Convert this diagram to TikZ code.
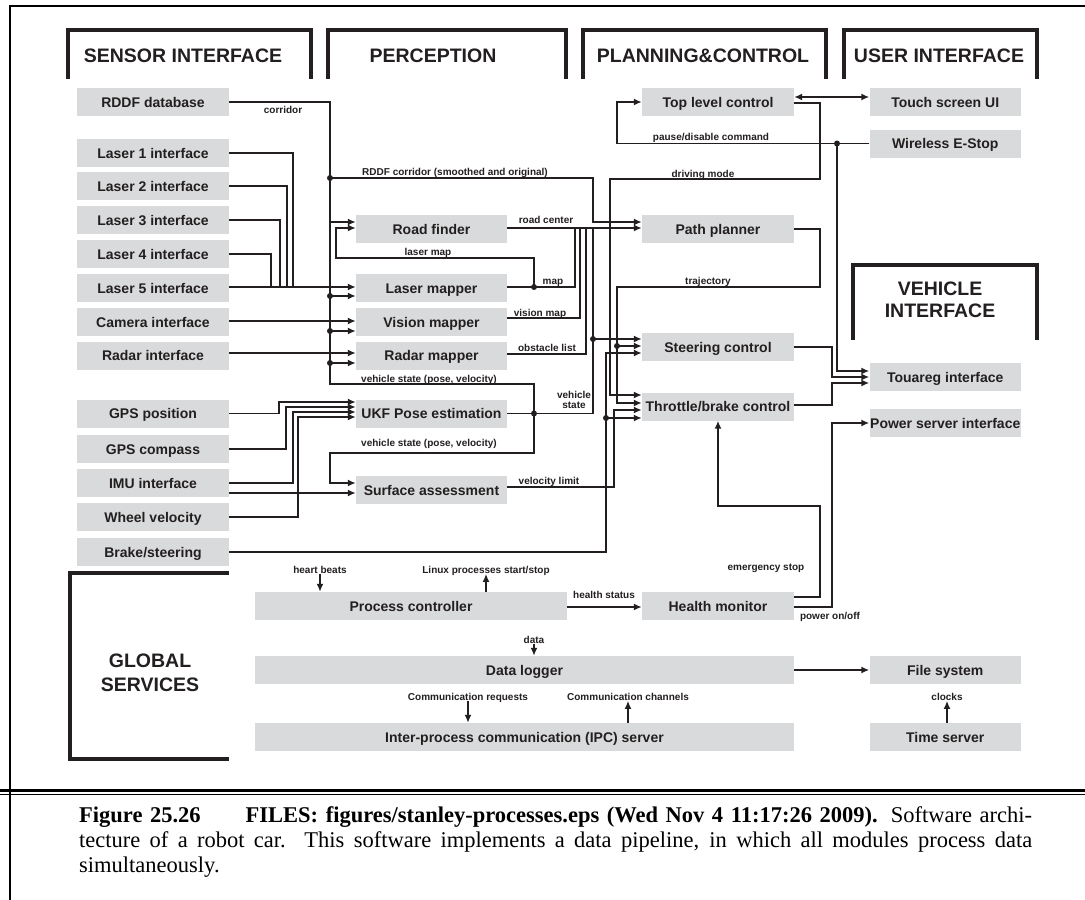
\documentclass[tikz,border=0pt]{standalone}
\usepackage{fontspec}
\setmainfont{Liberation Serif}
\setsansfont{Liberation Sans}
\usetikzlibrary{arrows.meta}
\definecolor{ink}{HTML}{231F20}
\definecolor{boxgray}{HTML}{D9DADB}
\tikzset{
  box/.style={fill=boxgray, text=ink, inner sep=0pt, minimum height=28pt, text height=10.2pt, text depth=0pt, font=\sffamily\bfseries\fontsize{14}{16}\selectfont},
  wire/.style={draw=ink, line width=1.8pt},
  lbl/.style={text=ink, inner sep=0pt, text height=7.3pt, text depth=0pt, font=\sffamily\bfseries\fontsize{10}{11}\selectfont},
  head/.style={text=ink, inner sep=0pt, anchor=base, font=\sffamily\bfseries\fontsize{19.5}{22}\selectfont},
  bracket/.style={draw=ink, line width=3.5pt},
}
\begin{document}
\begin{tikzpicture}[x=1pt, y=-1pt, >={Latex[length=8pt,width=7pt]}]
  \fill[white] (0,0) rectangle (1085,900);
  \path[use as bounding box] (0,0) rectangle (1085,900);
  \draw[line width=2.5pt] (10,900) -- (10,6) -- (1085,6);
  \draw[line width=3pt] (0,790.5) -- (1085,790.5);
  \draw[line width=1pt] (0,794.5) -- (1085,794.5);

  \draw[bracket] (68,79) |- (311,30) -- (311,79);
  \draw[bracket] (328,79) |- (566,30) -- (566,79);
  \draw[bracket] (583,79) |- (826,30) -- (826,79);
  \draw[bracket] (844,79) |- (1037,30) -- (1037,79);
  \draw[bracket] (853,340) |- (1037,265) -- (1037,340);
  \draw[bracket] (229,573) -| (70,759) -- (229,759);
  \node[head] (hsens) at (183,62) {SENSOR INTERFACE};
  \node[head] (hperc) at (433,62) {PERCEPTION};
  \node[head] (hplan) at (703,62) {PLANNING\&CONTROL};
  \node[head] (huser) at (939,62) {USER INTERFACE};
  \node[head] (hveh1) at (940,295) {VEHICLE};
  \node[head] (hveh2) at (940,317) {INTERFACE};
  \node[head] (hglob1) at (150,667) {GLOBAL};
  \node[head] (hglob2) at (150,691) {SERVICES};

  \foreach \n/\y/\t in {rddf/102/RDDF database, las1/153/Laser 1 interface, las2/186/Laser 2 interface,
      las3/220/Laser 3 interface, las4/254/Laser 4 interface, las5/288/Laser 5 interface,
      cam/322/Camera interface, radar/355.5/Radar interface, gpspos/413.5/GPS position,
      gpscomp/449/GPS compass, imu/483/IMU interface, wheel/517/Wheel velocity}
    \node[box, minimum width=152pt] (\n) at (153,\y) {\t};
  \node[box, minimum width=152pt] (brake) at (153,552) {Brake/steering};
  \foreach \n/\y/\t in {road/229/Road finder, lmap/288/Laser mapper, vmap/322/Vision mapper,
      rmap/355.5/Radar mapper, ukf/413.5/UKF Pose estimation, surf/490/Surface assessment}
    \node[box, minimum width=151pt] (\n) at (431.5,\y) {\t};
  \foreach \n/\y/\t in {top/102/Top level control, path/229/Path planner, steer/347/Steering control, health/606/Health monitor}
    \node[box, minimum width=152pt] (\n) at (718,\y) {\t};
  \node[box, minimum width=152pt] (throttle) at (718,406.5) {Throttle/brake control};
  \foreach \n/\y/\t in {touch/102/Touch screen UI, estop/143.5/Wireless E-Stop, touareg/377/Touareg interface,
      power/423/Power server interface, files/670/File system, time/737/Time server}
    \node[box, minimum width=151.5pt] (\n) at (945.25,\y) {\t};
  \node[box, minimum width=312pt] (process) at (411,606) {Process controller};
  \node[box, minimum width=539pt] (datalog) at (524.5,670) {Data logger};
  \node[box, minimum width=539pt] (ipc) at (524.5,737) {Inter-process communication (IPC) server};

  \draw[wire,->] (rddf.east) -- (330,102) -- (330,222) -- (road.west |- 0,222);
  \foreach \s/\x in {las1/293,las2/287,las3/280,las4/271} \draw[wire] (\s.east) -| (\x,287);
  \draw[wire,->] (las5.east |- 0,287) -- (lmap.west |- 0,287);
  \draw[wire,->] (cam.east |- 0,321) -- (vmap.west |- 0,321);
  \draw[wire,->] (radar.east |- 0,353) -- (rmap.west |- 0,353);
  \foreach \t/\y in {lmap/296,vmap/331,rmap/363} {
    \fill[ink] (330,\y) circle (3pt);
    \draw[wire,->] (330,\y) -- (\t.west |- 0,\y);
  }
  \draw[wire,->] (gpspos.east) -- (279,413.5) -- (279,402) -- (ukf.west |- 0,402);
  \draw[wire,->] (gpscomp.east) -- (286,449) -- (286,407) -- (ukf.west |- 0,407);
  \draw[wire,->] (imu.east |- 0,483) -- (293,483) -- (293,412) -- (ukf.west |- 0,412);
  \draw[wire,->] (wheel.east) -- (298,517) -- (298,417) -- (ukf.west |- 0,417);
  \draw[wire,->] (imu.east |- 0,493) -- (surf.west |- 0,493);

  \draw[wire] (ukf.east) -- (593,413.5) -- (593,228);
  \fill[ink] (534,413.5) circle (3pt);
  \draw[wire] (534,413.5) -- (534,384) -- (330,384) -- (330,222);
  \draw[wire,->] (534,413.5) -- (534,453) -- (330,453) -- (330,483) -- (surf.west |- 0,483);
  \fill[ink] (593,339) circle (3pt);
  \draw[wire,->] (593,339) -- (steer.west |- 0,339);

  \fill[ink] (330,178) circle (3pt);
  \draw[wire,->] (330,178) -- (593,178) -- (593,222) -- (path.west |- 0,222);
  \draw[wire,->] (road.east |- 0,228) -- (path.west |- 0,228);
  \draw[wire] (lmap.east |- 0,287) -- (575,287) -- (575,228);
  \fill[ink] (534,287) circle (3pt);
  \draw[wire,->] (534,287) -- (534,258) -- (336,258) -- (336,228) -- (road.west |- 0,228);
  \draw[wire] (vmap.east |- 0,318) -- (580,318) -- (580,228);
  \draw[wire] (rmap.east |- 0,354) -- (586,354) -- (586,228);

  \draw[wire,->] (path.east) -- (820,229) -- (820,287) -- (617,287) -- (617,403) -- (throttle.west |- 0,403);
  \fill[ink] (617,346) circle (3pt);
  \draw[wire,->] (617,346) -- (steer.west |- 0,346);
  \draw[wire,->] (top.east |- 0,103) -- (820,103) -- (820,179) -- (610,179) -- (610,395) -- (throttle.west |- 0,395);
  \draw[wire,<->] (top.east |- 0,97) -- (touch.west |- 0,97);
  \draw[wire,->] (estop.west) -- (617,143.5) -- (617,102) -- (top.west);
  \fill[ink] (837,143.5) circle (3pt);
  \draw[wire,->] (837,143.5) -- (837,371) -- (touareg.west |- 0,371);
  \draw[wire,->] (steer.east) -- (832,347) -- (832,377) -- (touareg.west |- 0,377);
  \draw[wire,->] (throttle.east |- 0,405) -- (832,405) -- (832,383) -- (touareg.west |- 0,383);
  \draw[wire,->] (brake.east) -- (606,552) -- (606,353) -- (steer.west |- 0,353);
  \fill[ink] (606,418) circle (3pt);
  \draw[wire,->] (606,418) -- (throttle.west |- 0,418);
  \draw[wire,->] (surf.east |- 0,487) -- (614,487) -- (614,410) -- (throttle.west |- 0,410);

  \draw[wire,->] (process.east |- 0,607) -- (health.west |- 0,607);
  \draw[wire,->] (health.east |- 0,597) -- (820,597) -- (820,506) -- (718,506) -- (throttle.south);
  \draw[wire,->] (health.east |- 0,607) -- (832,607) -- (832,423) -- (power.west);
  \draw[wire,->] (datalog.east) -- (files.west);

  \node[lbl] (lcorr) at (283,110) {corridor};
  \node[lbl] (lrddf) at (455,172) {RDDF corridor (smoothed and original)};
  \node[lbl] (lroad) at (546,220) {road center};
  \node[lbl] (llmap) at (428,252) {laser map};
  \node[lbl] (lmapl) at (553,281) {map};
  \node[lbl] (lvmap) at (540,313) {vision map};
  \node[lbl] (lobst) at (547,348) {obstacle list};
  \node[lbl] (lvs1) at (429,379) {vehicle state (pose, velocity)};
  \node[lbl] (lvs2) at (429,443) {vehicle state (pose, velocity)};
  \node[text=ink, inner sep=0pt, align=center, font=\sffamily\bfseries\fontsize{10}{10.5}\selectfont] (lvs3) at (574,400) {vehicle\\state};
  \node[lbl] (lvel) at (549,481) {velocity limit};
  \node[lbl] (lpause) at (711,137) {pause/disable command};
  \node[lbl] (ldrive) at (703,174) {driving mode};
  \node[lbl] (ltraj) at (708,281) {trajectory};
  \node[lbl] (lhealth) at (604,595) {health status};
  \node[lbl] (lemerg) at (766,567) {emergency stop};
  \node[lbl] (lpower) at (830,616) {power on/off};

  \node[lbl] (hb) at (320,570) {heart beats};
  \draw[wire,->] (hb.south) -- (hb.south |- process.north);
  \node[lbl] (linux) at (486,570) {Linux processes start/stop};
  \draw[wire,->] (process.north -| linux) -- (linux.south);
  \node[lbl] (data) at (534,640) {data};
  \draw[wire,->] (data.south) -- (data.south |- datalog.north);
  \node[lbl] (creq) at (468,697) {Communication requests};
  \draw[wire,->] (creq.south) -- (creq.south |- ipc.north);
  \node[lbl] (cchan) at (628,697) {Communication channels};
  \draw[wire,->] (ipc.north -| cchan) -- (cchan.south);
  \node[lbl] (clk) at (947,697) {clocks};
  \draw[wire,->] (time.north -| clk) -- (clk.south);

  \node[anchor=north west, inner sep=0pt, text width=953pt, align=justify,
        font=\fontsize{22.5}{25}\selectfont] (cap) at (79,806)
    {\textbf{Figure 25.26\hspace{2em}FILES: figures/stanley-processes.eps (Wed Nov 4 11:17:26 2009).} Software archi-\linebreak
     tecture of a robot car.  This software implements a data pipeline, in which all modules process data\linebreak
     simultaneously.};
\end{tikzpicture}
\end{document}
